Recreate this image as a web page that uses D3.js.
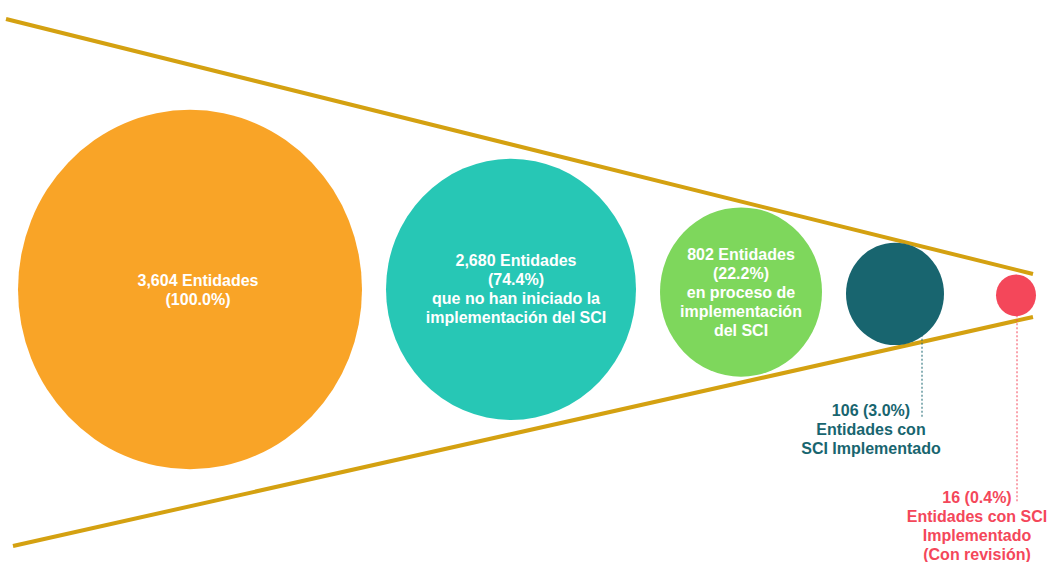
<!DOCTYPE html>
<html>
<head>
<meta charset="utf-8">
<script src="https://cdn.jsdelivr.net/npm/d3@7"></script>
<style>
  html, body { margin: 0; padding: 0; background: #fff; }
  svg { display: block; font-family: "Liberation Sans", Arial, sans-serif; font-weight: bold; }
</style>
</head>
<body>
<svg id="chart" width="1050" height="562"></svg>
<script>
// data
const entidades = [3604, 2680, 802, 106, 16];
const porcentajes = [100.0, 74.4, 22.2, 3.0, 0.4];
const descripciones = [
  [],
  ['que no han iniciado la', 'implementación del SCI'],
  ['en proceso de', 'implementación', 'del SCI'],
  ['Entidades con', 'SCI Implementado'],
  ['Entidades con SCI', 'Implementado', '(Con revisión)']
];
const etiquetaDentro = [true, true, true, false, false];

// layout / styles
const colores = ['#F9A427', '#27C7B5', '#7ED75C', '#18656F', '#F4475A'];
const radios = [172, 125, 81, 49, 20];
const lineColor = '#D4A111';
const funnelTop = [[6, 19], [1033, 274]];
const funnelBottom = [[13, 546], [1033, 317]];
const startX = 18, gap = 24, tipInset = 17, yStretch = 1.045;
const lineH = 19, fontSize = '16px';
const textDx = [8, 5, 0, 0, 0];
const textDy = [4, 0, 0, 0, 0];
const calloutDx = [0, 0, 0, -24, -39];
const calloutLineDx = [0, 0, 0, 27, 1];
const calloutDrop = [0, 0, 0, 68, 182];

const svg = d3.select('#chart');

// funnel edges as linear scales in x
const topY = d3.scaleLinear().domain([funnelTop[0][0], funnelTop[1][0]]).range([funnelTop[0][1], funnelTop[1][1]]);
const botY = d3.scaleLinear().domain([funnelBottom[0][0], funnelBottom[1][0]]).range([funnelBottom[0][1], funnelBottom[1][1]]);

const rScale = d3.scaleLinear().domain(entidades).range(radios);

// pack circles left to right, last one sits in the funnel tip
const nodes = [];
let prevX = null, prevR = 0;
entidades.forEach((v, i) => {
  const r = rScale(v);
  let cx = prevX === null ? startX + r : prevX + prevR + gap + r;
  if (i === entidades.length - 1) cx = funnelTop[1][0] - tipInset;
  const cy = (topY(cx) + botY(cx)) / 2 + textDy[i];
  nodes.push({ v, i, r, cx, cy });
  prevX = cx; prevR = r;
});

const fmt = d3.format(',');
const line = d3.line();

svg.append('path').attr('d', line(funnelTop))
  .attr('stroke', lineColor).attr('stroke-width', 4).attr('fill', 'none');
svg.append('path').attr('d', line(funnelBottom))
  .attr('stroke', lineColor).attr('stroke-width', 4).attr('fill', 'none');

svg.selectAll('ellipse.etapa')
  .data(nodes)
  .enter().append('ellipse')
  .attr('class', 'etapa')
  .attr('cx', d => d.cx)
  .attr('cy', d => d.cy)
  .attr('rx', d => d.r)
  .attr('ry', d => d.r * yStretch)
  .attr('fill', d => colores[d.i]);

nodes.forEach(d => {
  const pct = porcentajes[d.i].toFixed(1);
  if (etiquetaDentro[d.i]) {
    const lines = [fmt(d.v) + ' Entidades', '(' + pct + '%)'].concat(descripciones[d.i]);
    const y0 = d.cy - (lines.length - 1) * lineH / 2;
    const t = svg.append('text')
      .attr('text-anchor', 'middle')
      .style('font-size', fontSize)
      .style('fill', '#fff');
    lines.forEach((s, k) => {
      t.append('tspan').attr('x', d.cx + textDx[d.i]).attr('y', y0 + k * lineH).attr('dy', '0.35em').text(s);
    });
  } else {
    const lines = [d.v + ' (' + pct + '%)'].concat(descripciones[d.i]);
    const ly = d.cy + d.r + calloutDrop[d.i];
    const lx = d.cx + calloutDx[d.i];
    const px = d.cx + calloutLineDx[d.i];
    const edge = d.cy + Math.sqrt(Math.max(0, d.r * d.r - calloutLineDx[d.i] * calloutLineDx[d.i]));
    svg.append('line')
      .attr('x1', px).attr('x2', px)
      .attr('y1', edge).attr('y2', ly + 6)
      .attr('stroke', colores[d.i])
      .attr('stroke-width', 1)
      .attr('stroke-dasharray', '2,2');
    const t = svg.append('text')
      .attr('text-anchor', 'middle')
      .style('font-size', fontSize)
      .style('fill', colores[d.i]);
    lines.forEach((s, k) => {
      t.append('tspan').attr('x', lx).attr('y', ly + k * lineH).attr('dy', '0.35em').text(s);
    });
  }
});
</script>
</body>
</html>
